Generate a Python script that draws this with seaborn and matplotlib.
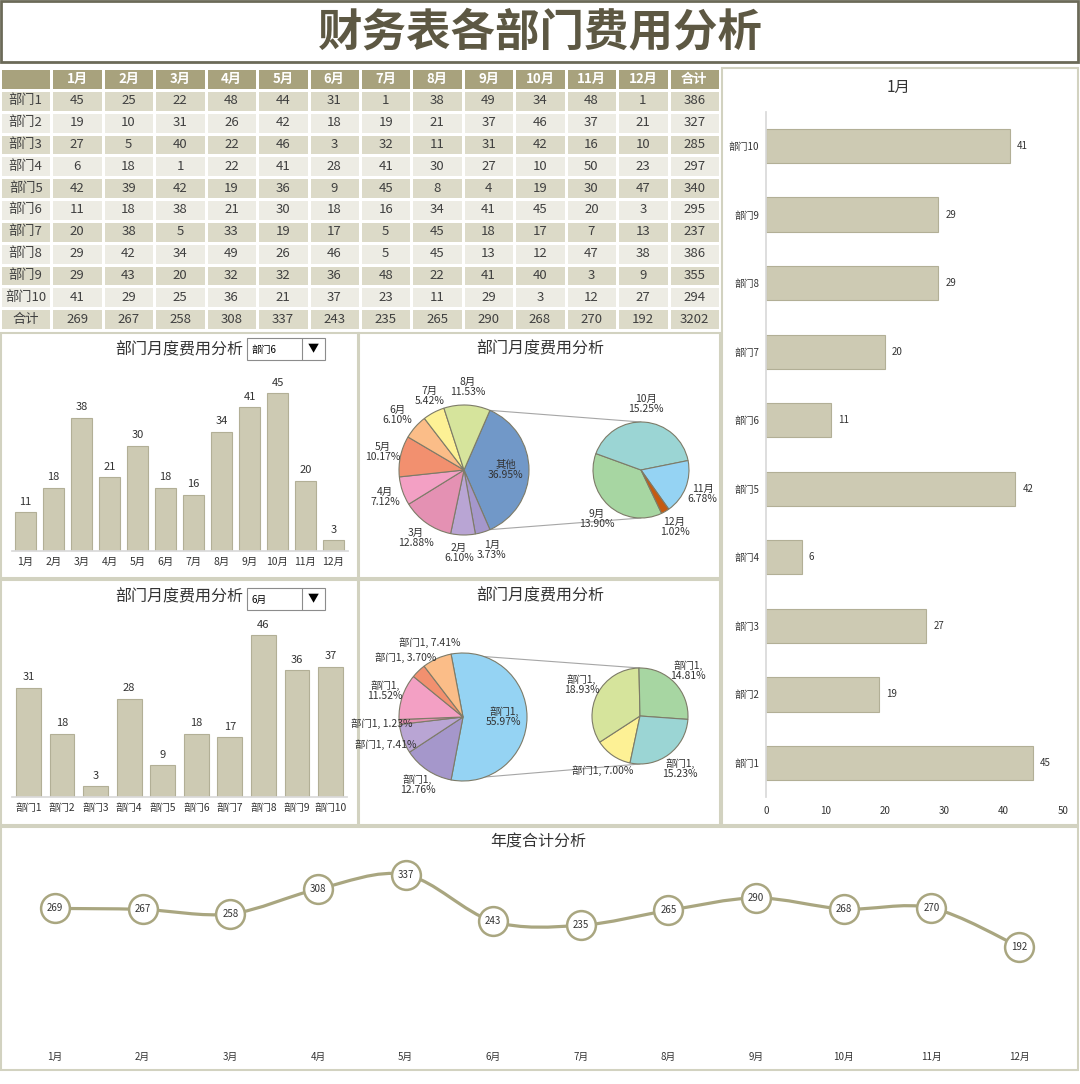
import numpy as np
import pandas as pd
import matplotlib
matplotlib.use('Agg')
import matplotlib.pyplot as plt
import seaborn as sns
from matplotlib.colors import ListedColormap
from matplotlib.patches import Rectangle, PathPatch
from matplotlib.path import Path
from matplotlib.lines import Line2D

# ---- 数据 ----
months = ['1月', '2月', '3月', '4月', '5月', '6月', '7月', '8月', '9月', '10月', '11月', '12月']
depts = ['部门1', '部门2', '部门3', '部门4', '部门5', '部门6', '部门7', '部门8', '部门9', '部门10']

dept_1 = [45, 25, 22, 48, 44, 31, 1, 38, 49, 34, 48, 1]
dept_2 = [19, 10, 31, 26, 42, 18, 19, 21, 37, 46, 37, 21]
dept_3 = [27, 5, 40, 22, 46, 3, 32, 11, 31, 42, 16, 10]
dept_4 = [6, 18, 1, 22, 41, 28, 41, 30, 27, 10, 50, 23]
dept_5 = [42, 39, 42, 19, 36, 9, 45, 8, 4, 19, 30, 47]
dept_6 = [11, 18, 38, 21, 30, 18, 16, 34, 41, 45, 20, 3]
dept_7 = [20, 38, 5, 33, 19, 17, 5, 45, 18, 17, 7, 13]
dept_8 = [29, 42, 34, 49, 26, 46, 5, 45, 13, 12, 47, 38]
dept_9 = [29, 43, 20, 32, 32, 36, 48, 22, 41, 40, 3, 9]
dept_10 = [41, 29, 25, 36, 21, 37, 23, 11, 29, 3, 12, 27]

dept_totals = [386, 327, 285, 297, 340, 295, 237, 386, 355, 294]
month_totals = [269, 267, 258, 308, 337, 243, 235, 265, 290, 268, 270, 192]
grand_total = 3202

selected_dept = '部门6'    # 下拉框1
selected_month = '6月'     # 下拉框2
side_month = '1月'         # 右侧条形图
# 原图第二个饼图的所有数据标签都写成了“部门1”
pie2_names = ['部门1'] * len(depts)

df = pd.DataFrame([dept_1, dept_2, dept_3, dept_4, dept_5, dept_6,
                   dept_7, dept_8, dept_9, dept_10], index=depts, columns=months)

# ---- 样式 ----
sns.set_theme(style='white')
plt.rcParams['font.family'] = ['Noto Sans CJK SC', 'DejaVu Sans']
plt.rcParams['axes.unicode_minus'] = False

W, H = 1080, 1084
bar_c = '#cdcab3'
bar_edge = '#b2af96'
line_c = '#a9a680'
frame_c = '#d2d2c0'
txt_c = '#333333'
slice_colors = ['#a597cb', '#b9a5d4', '#e491b3', '#f3a0c4', '#f2906f', '#fbbd88',
                '#fdf195', '#d6e49c', '#a7d6a2', '#9bd5d4', '#95d3f3', '#c55a11']


def rect(x0, y0, x1, y1):
    return [x0 / W, 1 - y1 / H, (x1 - x0) / W, (y1 - y0) / H]


def ftext(x, y, s, **kw):
    fig.text(x / W, 1 - y / H, s, **kw)


def frame(x0, y0, x1, y1, color=frame_c, lw=1.5, fc='none', z=0):
    fig.add_artist(Rectangle((x0 / W, 1 - y1 / H), (x1 - x0) / W, (y1 - y0) / H,
                             transform=fig.transFigure, fill=(fc != 'none'),
                             facecolor=fc, edgecolor=color, lw=lw, zorder=z))


def dropdown(x0, y0, s):
    frame(x0, y0, x0 + 78, y0 + 22, color='#8c8c8c', lw=0.8, fc='white', z=5)
    fig.add_artist(Line2D([(x0 + 55) / W] * 2, [1 - y0 / H, 1 - (y0 + 22) / H],
                          transform=fig.transFigure, color='#8c8c8c', lw=0.8, zorder=6))
    ftext(x0 + 4, y0 + 12, s, fontsize=7, ha='left', va='center', color='black', zorder=7)
    ftext(x0 + 66.5, y0 + 11.5, '▼', fontsize=8, ha='center', va='center', color='black', zorder=7)


fig = plt.figure(figsize=(W / 100, H / 100), dpi=100)
fig.patch.set_facecolor('white')

# ---- 大标题 ----
frame(1, 1, 1078, 62, color='#6b6a58', lw=2)
ftext(540, 32, '财务表各部门费用分析', fontsize=32, fontweight='bold',
      color='#5d5843', ha='center', va='center')

# ---- 面板边框 ----
frame(722, 68, 1078, 825)
frame(1, 333, 358, 578)
frame(359, 333, 720, 578)
frame(1, 580, 358, 825)
frame(359, 580, 720, 825)
frame(1, 827, 1078, 1070)

# ---- 数据表 ----
ax_tab = fig.add_axes(rect(0, 68, 720, 330))
cells = [[''] + months + ['合计']]
for d, tot in zip(depts, dept_totals):
    cells.append([d] + [str(v) for v in df.loc[d]] + [str(tot)])
cells.append(['合计'] + [str(v) for v in month_totals] + [str(grand_total)])
cells = np.array(cells)
shade = np.zeros(cells.shape)
shade[0, :] = 2
for i in range(1, len(cells)):
    shade[i, :] = 0 if i % 2 == 1 else 1
sns.heatmap(shade, annot=cells, fmt='', cmap=ListedColormap(['#dcdac8', '#edece4', '#a8a27d']),
            vmin=0, vmax=2, cbar=False, linewidths=1, linecolor='white',
            xticklabels=False, yticklabels=False, annot_kws={'fontsize': 9.5}, ax=ax_tab)
for t in ax_tab.texts:
    if t.get_position()[1] < 1:
        t.set_color('white')
        t.set_fontweight('bold')
    else:
        t.set_color('#404040')

# ---- 柱状图：部门月度 ----
def style_vbar(ax, top):
    ax.set_ylim(0, top)
    ax.set_yticks([])
    ax.set_xlabel('')
    ax.set_ylabel('')
    for k in ['left', 'right', 'top']:
        ax.spines[k].set_visible(False)
    ax.spines['bottom'].set_color('#d9d9d9')
    ax.tick_params(axis='x', length=0, labelsize=7.5, pad=4, colors=txt_c)
    ax.bar_label(ax.containers[0], fontsize=8, padding=4, color=txt_c)
    ax.patch.set_alpha(0)


ax1 = fig.add_axes(rect(11.5, 365, 347.5, 551))
sns.barplot(x=months, y=df.loc[selected_dept].values, color=bar_c, edgecolor=bar_edge,
            linewidth=0.8, saturation=1, width=0.75, ax=ax1)
ax1.set_xlim(-0.5, 11.5)
style_vbar(ax1, 53)
ftext(179, 350, '部门月度费用分析', fontsize=11.5, ha='center', va='center', color=txt_c)
dropdown(247, 338, selected_dept)

ax2 = fig.add_axes(rect(11.7, 612, 347.3, 797))
sns.barplot(x=depts, y=df[selected_month].values, color=bar_c, edgecolor=bar_edge,
            linewidth=0.8, saturation=1, width=0.74, ax=ax2)
ax2.set_xlim(-0.5, 9.5)
style_vbar(ax2, 52.6)
ftext(179, 597, '部门月度费用分析', fontsize=11.5, ha='center', va='center', color=txt_c)
dropdown(247, 588, selected_month)

# ---- 右侧条形图 ----
ax3 = fig.add_axes(rect(766, 111.7, 1063, 797.3))
sns.barplot(x=df[side_month].values, y=depts, order=depts[::-1], orient='h', color=bar_c,
            edgecolor=bar_edge, linewidth=0.8, saturation=1, width=0.5, ax=ax3)
ax3.set_xlim(0, 50)
ax3.set_xticks(range(0, 51, 10))
ax3.set_ylim(9.5, -0.5)
ax3.set_xlabel('')
ax3.set_ylabel('')
for k in ['bottom', 'right', 'top']:
    ax3.spines[k].set_visible(False)
ax3.spines['left'].set_color('#d9d9d9')
ax3.tick_params(axis='x', length=0, labelsize=7, pad=6, colors=txt_c)
ax3.tick_params(axis='y', length=0, labelsize=7, pad=5, colors=txt_c)
ax3.bar_label(ax3.containers[0], fontsize=7, padding=5, color=txt_c)
ftext(898, 87, side_month, fontsize=11, ha='center', va='center', color=txt_c)


# ---- 复合饼图 ----
def spread_labels(texts):
    """相邻标签重叠时左右推开（坐标单位即像素）"""
    renderer = fig.canvas.get_renderer()
    for a, b in zip(texts[:-1], texts[1:]):
        ba = a.get_window_extent(renderer)
        bb = b.get_window_extent(renderer)
        if ba.overlaps(bb):
            ox = min(ba.x1, bb.x1) - max(ba.x0, bb.x0) + 3
            left, right = (a, b) if ba.x0 + ba.x1 <= bb.x0 + bb.x1 else (b, a)
            lx, ly = left.get_position()
            rx, ry = right.get_position()
            left.set_position((lx - ox / 2, ly))
            right.set_position((rx + ox / 2, ry))


def pie_of_pie(ax, values, names, n_main, other_name, other_color, colors,
               sec_start, c1, c2, r1, r2, label_fmt):
    values = np.asarray(values, dtype=float)
    total = values.sum()
    main = values[:n_main]
    rest = values[n_main:]
    other = rest.sum()
    wp = dict(edgecolor='#7d7b68', linewidth=0.8)
    w1, _ = ax.pie(np.r_[other, main], colors=[other_color] + colors[:n_main],
                   startangle=other / total * 180, counterclock=False,
                   center=c1, radius=r1, wedgeprops=wp)
    w2, _ = ax.pie(rest, colors=colors[n_main:len(values)], startangle=sec_start,
                   counterclock=False, center=c2, radius=r2, wedgeprops=wp)
    pcts = np.r_[other, main] / total * 100
    labs = [other_name] + list(names[:n_main])
    outer = []
    for j, (w, p, lab) in enumerate(zip(w1, pcts, labs)):
        a = np.deg2rad((w.theta1 + w.theta2) / 2)
        f = 0.64 if j == 0 else 1.28
        t = ax.text(c1[0] + f * r1 * np.cos(a), c1[1] + f * r1 * np.sin(a), label_fmt(lab, p),
                    ha='center', va='center', fontsize=7.5, color=txt_c, linespacing=1.0)
        if j > 0:
            outer.append(t)
    for w, v, lab in zip(w2, rest, names[n_main:]):
        a = np.deg2rad((w.theta1 + w.theta2) / 2)
        ax.text(c2[0] + 1.38 * r2 * np.cos(a), c2[1] + 1.38 * r2 * np.sin(a),
                label_fmt(lab, v / total * 100), ha='center', va='center', fontsize=7.5,
                color=txt_c, linespacing=1.0)
    # 连接线
    half = np.deg2rad(other / total * 180)
    for s in (1, -1):
        ax.plot([c1[0] + r1 * np.cos(half), c2[0]],
                [c1[1] + s * r1 * np.sin(half), c2[1] + s * r2],
                color='#a6a6a6', lw=0.8, zorder=0)
    return outer


def fmt_month(lab, p):
    return f'{lab}\n{p:.2f}%'


def fmt_dept(lab, p):
    return f'{lab},\n{p:.2f}%' if p >= 10 else f'{lab}, {p:.2f}%'


ax4 = fig.add_axes(rect(360, 333, 720, 578))
lab4 = pie_of_pie(ax4, df.loc[selected_dept].values, months, 8, '其他', '#7198c8', slice_colors,
                  160 + 41 / 109 * 360, (464, H - 470), (641, H - 470), 65, 48, fmt_month)
ax4.set_xlim(360, 720)
ax4.set_ylim(H - 578, H - 333)
ax4.set_aspect('auto')
ax4.axis('off')
ftext(540, 349, '部门月度费用分析', fontsize=11.5, ha='center', va='center', color=txt_c)

ax6 = fig.add_axes(rect(360, 580, 720, 825))
lab6 = pie_of_pie(ax6, df[selected_month].values, pie2_names, 6, '部门1', '#95d3f3', slice_colors,
                  -102, (463, H - 717), (640, H - 716), 64, 48, fmt_dept)
ax6.set_xlim(360, 720)
ax6.set_ylim(H - 825, H - 580)
ax6.set_aspect('auto')
ax6.axis('off')
ftext(540, 596, '部门月度费用分析', fontsize=11.5, ha='center', va='center', color=txt_c)

spread_labels(lab4)

# ---- 年度合计折线图 ----
ax5 = fig.add_axes(rect(11.2, 848, 1062.8, 1042))
pts = np.column_stack([np.arange(len(month_totals)), month_totals]).astype(float)
verts = [pts[0]]
codes = [Path.MOVETO]
for i in range(len(pts) - 1):
    p_prev = pts[i - 1] if i > 0 else pts[i]
    p_next = pts[i + 2] if i + 2 < len(pts) else pts[i + 1]
    verts += [pts[i] + (pts[i + 1] - p_prev) / 6, pts[i + 1] - (p_next - pts[i]) / 6, pts[i + 1]]
    codes += [Path.CURVE4] * 3
ax5.add_patch(PathPatch(Path(verts, codes), fill=False, edgecolor=line_c, lw=2.3, zorder=2))
sns.scatterplot(x=np.arange(len(month_totals)), y=month_totals, s=430, color='white',
                edgecolor=line_c, linewidth=1.8, zorder=3, ax=ax5)
for i, v in enumerate(month_totals):
    ax5.text(i, v, str(v), ha='center', va='center', fontsize=7, color=txt_c, zorder=4)
ax5.set_xlim(-0.5, 11.5)
ax5.set_ylim(0, 390.7)
ax5.set_xticks(range(12), months)
ax5.set_yticks([])
ax5.set_xlabel('')
ax5.set_ylabel('')
for k in ax5.spines:
    ax5.spines[k].set_visible(False)
ax5.tick_params(axis='x', length=0, labelsize=7, pad=7, colors=txt_c)
ax5.patch.set_alpha(0)
ftext(538, 842, '年度合计分析', fontsize=11.5, ha='center', va='center', color=txt_c)

fig.savefig('out.png', dpi=100)
